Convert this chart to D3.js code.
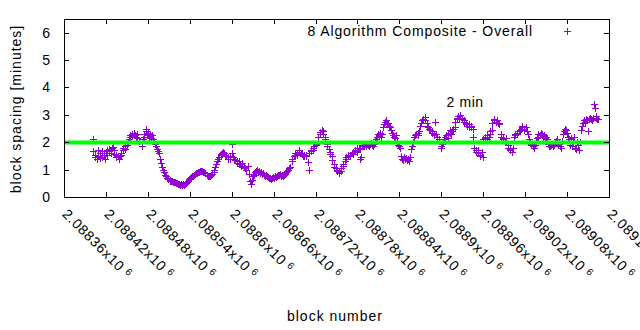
<!DOCTYPE html>
<html><head><meta charset="utf-8">
<script src="https://cdn.jsdelivr.net/npm/d3@7"></script>
<style>body{margin:0;background:#fff}text{font-family:"Liberation Sans",Arial,sans-serif;fill:#000}</style>
</head><body><svg id="c" width="640" height="330"></svg>
<script>
const xTicks = [2088360,2088420,2088480,2088540,2088600,2088660,2088720,2088780,2088840,2088900,2088960,2089020,2089080,2089140];
const yTicks = [0,1,2,3,4,5,6];
const targetMinutes = 2;
const seriesName = "8 Algorithm Composite - Overall";
const targetLabel = "2 min";
const xTitle = "block number";
const yTitle = "block spacing [minutes]";
const blockNumbers = [2088401,2088402,2088404,2088405,2088407,2088408,2088409,2088411,2088412,2088414,2088415,2088417,2088418,2088420,2088421,2088422,2088424,2088425,2088427,2088428,2088430,2088431,2088432,2088434,2088435,2088437,2088438,2088440,2088441,2088442,2088444,2088445,2088447,2088448,2088450,2088451,2088453,2088454,2088455,2088457,2088458,2088460,2088461,2088463,2088464,2088465,2088468,2088471,2088473,2088474,2088475,2088477,2088478,2088479,2088480,2088482,2088483,2088485,2088486,2088488,2088489,2088490,2088492,2088493,2088495,2088496,2088498,2088499,2088500,2088502,2088503,2088505,2088506,2088508,2088509,2088511,2088512,2088513,2088515,2088516,2088518,2088519,2088520,2088522,2088523,2088525,2088526,2088528,2088529,2088531,2088532,2088533,2088535,2088536,2088538,2088539,2088541,2088542,2088543,2088545,2088546,2088548,2088549,2088551,2088552,2088553,2088555,2088556,2088558,2088559,2088561,2088562,2088564,2088565,2088566,2088568,2088569,2088571,2088572,2088574,2088575,2088576,2088578,2088579,2088581,2088582,2088584,2088585,2088586,2088588,2088589,2088591,2088592,2088594,2088595,2088597,2088598,2088600,2088601,2088602,2088604,2088605,2088607,2088608,2088610,2088611,2088612,2088614,2088615,2088617,2088619,2088621,2088623,2088625,2088626,2088627,2088629,2088630,2088632,2088633,2088635,2088636,2088637,2088639,2088640,2088642,2088643,2088645,2088646,2088648,2088649,2088650,2088652,2088653,2088655,2088656,2088658,2088659,2088660,2088662,2088663,2088665,2088666,2088668,2088669,2088671,2088672,2088673,2088675,2088676,2088678,2088679,2088681,2088682,2088683,2088686,2088687,2088689,2088690,2088691,2088693,2088694,2088696,2088697,2088699,2088700,2088702,2088703,2088704,2088706,2088707,2088709,2088710,2088711,2088713,2088714,2088716,2088717,2088718,2088720,2088721,2088723,2088724,2088726,2088727,2088729,2088730,2088731,2088733,2088734,2088736,2088737,2088739,2088740,2088741,2088743,2088744,2088746,2088747,2088749,2088750,2088751,2088753,2088754,2088756,2088757,2088759,2088760,2088762,2088763,2088764,2088766,2088767,2088769,2088770,2088772,2088773,2088774,2088776,2088777,2088779,2088780,2088782,2088783,2088784,2088785,2088787,2088788,2088789,2088791,2088792,2088794,2088795,2088797,2088798,2088799,2088801,2088802,2088804,2088805,2088807,2088808,2088810,2088811,2088812,2088814,2088815,2088817,2088818,2088820,2088821,2088822,2088824,2088825,2088827,2088828,2088830,2088831,2088832,2088834,2088835,2088837,2088838,2088840,2088841,2088842,2088844,2088845,2088847,2088848,2088850,2088851,2088853,2088854,2088855,2088857,2088858,2088860,2088861,2088863,2088864,2088866,2088867,2088868,2088870,2088871,2088873,2088874,2088876,2088877,2088879,2088880,2088881,2088883,2088884,2088886,2088887,2088889,2088890,2088891,2088893,2088894,2088896,2088897,2088899,2088900,2088901,2088903,2088904,2088906,2088907,2088909,2088910,2088912,2088913,2088914,2088916,2088917,2088919,2088920,2088922,2088923,2088924,2088926,2088927,2088929,2088930,2088932,2088933,2088935,2088936,2088937,2088939,2088940,2088942,2088943,2088945,2088946,2088947,2088949,2088950,2088952,2088953,2088955,2088956,2088958,2088959,2088960,2088962,2088963,2088965,2088966,2088968,2088969,2088970,2088972,2088973,2088975,2088976,2088978,2088979,2088981,2088982,2088983,2088985,2088986,2088988,2088989,2088991,2088992,2088993,2088995,2088996,2088998,2088999,2089001,2089002,2089004,2089005,2089006,2089008,2089009,2089011,2089012,2089014,2089015,2089016,2089018,2089019,2089021,2089022,2089024,2089025,2089027,2089028,2089029,2089031,2089032,2089034,2089035,2089037,2089038,2089039,2089041,2089042,2089044,2089045,2089047,2089048,2089050,2089051,2089052,2089054,2089055,2089057,2089058,2089060,2089061,2089062,2089064,2089065,2089067,2089068,2089070,2089071,2089073,2089074,2089075,2089077,2089078,2089080,2089081,2089083,2089084,2089085,2089087,2089088,2089090,2089091,2089093,2089094,2089096,2089097,2089098,2089100,2089101,2089103,2089104,2089106,2089107,2089108,2089110,2089111,2089113,2089114,2089116,2089117,2089119,2089120,2089121,2089122,2089123,2089124];
const spacingMinutes = [2.13,1.68,1.45,1.55,1.38,1.7,1.5,1.42,1.62,1.68,1.45,1.52,1.4,1.6,1.72,1.55,1.68,1.75,1.6,1.78,1.82,1.7,1.58,1.52,1.45,1.5,1.4,1.48,1.55,1.62,1.7,1.78,1.85,1.75,1.9,2.0,2.1,2.2,2.25,2.3,2.22,2.35,2.28,2.2,2.3,2.15,2.05,1.86,2.1,2.2,2.3,2.4,2.47,2.25,2.35,2.2,2.3,2.15,2.25,2.1,2.05,1.95,1.85,1.75,1.68,1.6,1.4,1.25,1.1,1.0,0.9,0.82,0.75,0.7,0.65,0.62,0.6,0.58,0.57,0.55,0.55,0.53,0.52,0.5,0.48,0.47,0.45,0.46,0.44,0.47,0.45,0.48,0.5,0.55,0.6,0.65,0.68,0.72,0.75,0.78,0.8,0.83,0.86,0.88,0.9,0.92,0.94,0.95,0.95,0.93,0.9,0.86,0.82,0.8,0.77,0.75,0.78,0.8,0.85,0.9,1.0,1.1,1.2,1.3,1.38,1.45,1.52,1.58,1.62,1.66,1.6,1.55,1.5,1.45,1.4,1.5,1.38,1.92,1.6,1.45,1.4,1.35,1.3,1.25,1.3,1.22,1.2,1.15,1.25,1.1,1.05,1.0,1.12,0.85,0.57,0.46,0.62,0.75,0.82,0.9,0.95,1.0,0.92,0.95,0.88,0.93,0.85,0.88,0.82,0.78,0.8,0.75,0.72,0.68,0.7,0.65,0.68,0.72,0.7,0.75,0.72,0.78,0.82,0.8,0.85,0.78,0.8,0.75,0.8,0.85,0.9,0.95,1.0,1.05,1.1,1.31,1.4,1.48,1.55,1.6,1.52,1.58,1.65,1.7,1.62,1.58,1.5,1.55,1.48,1.55,1.5,1.27,1.0,1.6,1.68,1.72,1.7,1.78,1.85,1.9,1.95,2.05,2.2,2.3,2.38,2.45,2.4,2.3,2.2,2.1,1.95,1.85,1.75,1.65,1.58,1.5,1.35,1.2,1.1,1.05,1.0,0.95,0.9,0.88,0.95,1.05,1.12,1.2,1.3,1.38,1.45,1.5,1.52,1.48,1.55,1.6,1.58,1.65,1.68,1.72,1.65,1.78,1.8,1.75,1.38,1.45,1.85,1.9,1.85,1.92,1.88,1.95,1.9,1.85,1.92,1.98,1.9,1.85,1.95,2.05,2.1,2.2,2.3,2.25,2.35,2.2,2.3,2.55,2.65,2.75,2.8,2.72,2.7,2.6,2.55,2.45,2.35,2.25,2.2,2.15,2.25,2.0,1.9,1.85,1.8,1.5,1.4,1.35,1.45,1.38,1.42,1.35,1.4,1.3,1.45,1.75,1.85,2.0,2.2,2.25,2.3,2.35,2.25,2.4,2.6,2.7,2.8,2.85,2.92,2.8,2.7,2.6,2.55,2.5,2.45,2.4,2.35,2.3,2.25,2.73,2.3,2.2,2.1,2.05,1.85,1.8,1.92,2.0,2.1,2.2,2.25,2.15,2.3,2.35,2.45,2.3,2.4,2.5,2.55,2.75,2.85,2.9,2.95,2.85,3.0,2.9,2.85,2.8,2.75,2.7,2.65,2.6,2.55,2.65,2.6,2.55,2.5,2.18,1.8,1.7,1.65,1.6,1.7,1.55,1.5,1.65,1.45,2.1,2.15,2.2,2.1,2.25,2.2,2.3,2.4,2.45,2.7,2.8,2.85,2.75,2.8,2.72,2.65,2.7,2.3,2.2,2.15,2.1,2.05,2.15,2.05,1.9,1.8,1.7,1.75,1.65,1.8,2.2,2.25,2.3,2.35,2.3,2.4,2.45,2.5,2.55,2.6,2.5,2.45,2.55,2.4,2.3,2.1,2.0,1.9,1.95,1.85,1.8,1.9,2.05,2.15,2.2,2.3,2.25,2.35,2.3,2.2,2.25,2.15,2.2,2.1,1.95,1.88,1.85,1.9,1.95,1.85,1.9,2.0,2.05,2.1,1.95,2.0,1.85,1.8,2.05,2.3,2.4,2.5,2.45,2.35,2.2,2.1,1.9,2.15,1.85,2.05,2.2,1.8,1.75,2.0,1.9,1.7,2.0,2.45,2.6,2.7,2.8,2.75,2.85,2.8,2.4,2.85,2.9,2.85,2.8,2.9,3.4,3.25,2.95,2.9,2.85,2.84];

const svg = d3.select("#c");
svg.append("rect").attr("width",640).attr("height",330).attr("fill","#fff");
const x = d3.scaleLinear().domain([xTicks[0], xTicks[xTicks.length-1]]).rangeRound([64, 609]);
const y = d3.scaleLinear().domain([0, 6.5]).rangeRound([197, 19]);
const purple = "#9400d3";
const fs = "14px";

// points
const cross = "M-3.5,0H3.5M0,-3.5V3.5";
svg.append("g").selectAll("path").data(blockNumbers).join("path")
  .attr("d", cross)
  .attr("transform", (d,i) => `translate(${x(d)+0.5},${y(spacingMinutes[i])+0.5})`)
  .attr("fill","none").attr("stroke", purple).attr("stroke-width",1);

// target line
svg.append("line")
  .attr("x1", x.range()[0]+0.5).attr("x2", x.range()[1]+0.5)
  .attr("y1", y(targetMinutes)+0.5).attr("y2", y(targetMinutes)+0.5)
  .attr("stroke","#00ff00").attr("stroke-width",4);

// axes
function style(g){ g.select(".domain").remove(); g.selectAll(".tick line").attr("stroke","#000"); }
svg.append("g").attr("transform",`translate(0,${y(0)})`)
  .call(d3.axisBottom(x).tickValues(xTicks).tickSize(-5).tickFormat("")).call(style)
  .selectAll(".tick").append("text")
  .attr("transform","translate(-3,18) rotate(45)")
  .attr("text-anchor","start").style("font-size",fs).attr("letter-spacing","0.8px")
  .each(function(d){
    const t = d3.select(this);
    t.append("tspan").text((+(d/1e6).toFixed(5)) + "x10");
    t.append("tspan").attr("dx",4).attr("dy",-4).style("font-size","10px").text("6");
  });
svg.append("g").attr("transform",`translate(0,${y(6.5)})`)
  .call(d3.axisTop(x).tickValues(xTicks).tickSize(-5).tickFormat("")).call(style);
svg.append("g").attr("transform",`translate(${x.range()[0]},0)`)
  .call(d3.axisLeft(y).tickValues(yTicks).tickSize(-5).tickPadding(14).tickFormat(d3.format("d"))).call(style)
  .selectAll("text").style("font-size",fs).attr("font-family",null);
svg.append("g").attr("transform",`translate(${x.range()[1]},0)`)
  .call(d3.axisRight(y).tickValues(yTicks).tickSize(-5).tickFormat("")).call(style);
svg.selectAll(".tick text").attr("font-family",null).attr("fill","#000");

// border
svg.append("rect").attr("x",x.range()[0]+0.5).attr("y",y.range()[1]+0.5)
  .attr("width",x.range()[1]-x.range()[0]).attr("height",y.range()[0]-y.range()[1])
  .attr("fill","none").attr("stroke","#000").attr("stroke-width",1);

// titles
svg.append("text").attr("x",335).attr("y",321).attr("text-anchor","middle")
  .style("font-size",fs).attr("letter-spacing","1px").text(xTitle);
svg.append("text").attr("transform","translate(21,109) rotate(-90)").attr("text-anchor","middle")
  .style("font-size",fs).attr("letter-spacing","1px").text(yTitle);

// legend
svg.append("text").attr("x",533).attr("y",36).attr("text-anchor","end")
  .style("font-size",fs).attr("letter-spacing","0.9px").text(seriesName);
svg.append("path").attr("d",cross).attr("transform","translate(567.5,31.5)")
  .attr("fill","none").attr("stroke",purple);

// annotation
svg.append("text").attr("x",446.5).attr("y",107)
  .style("font-size",fs).attr("letter-spacing","0.6px").text(targetLabel);
</script></body></html>
